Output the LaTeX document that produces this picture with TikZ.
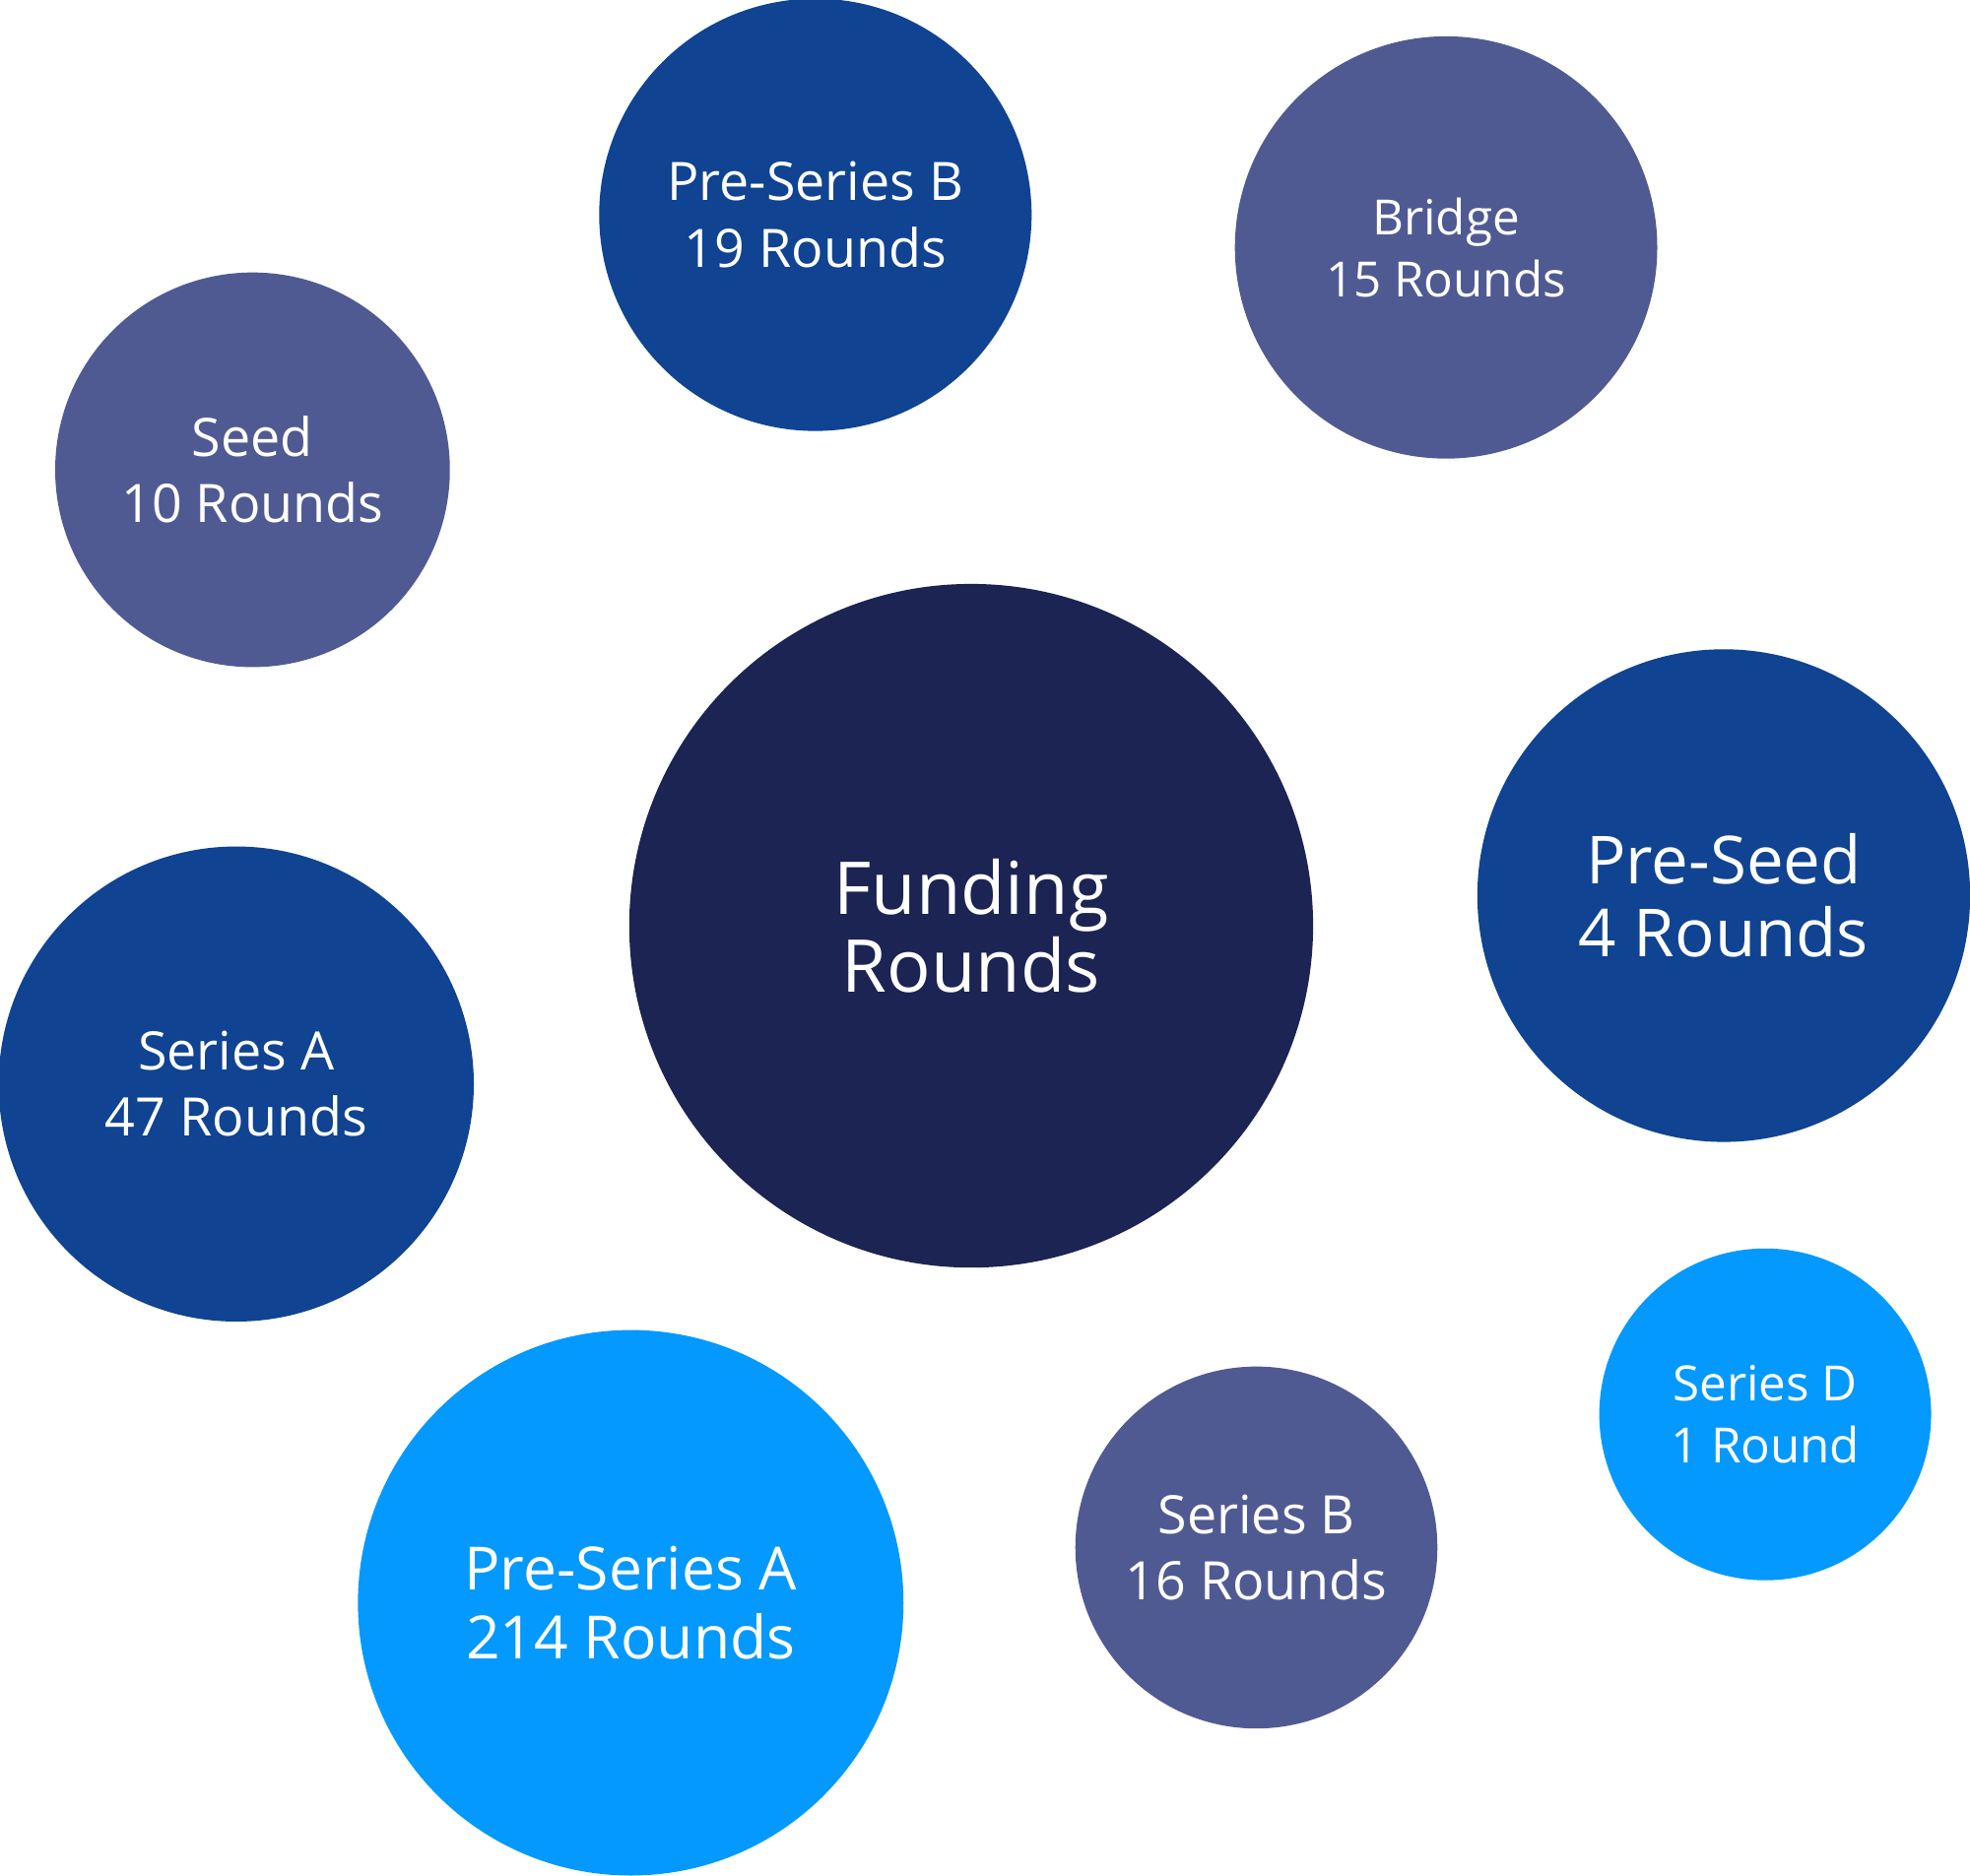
\documentclass[tikz,border=0pt]{standalone}
\usepackage{fontspec}
\setmainfont{Open Sans}
\definecolor{navy}{HTML}{1B2452}
\definecolor{royal}{HTML}{104391}
\definecolor{slate}{HTML}{505A92}
\definecolor{sky}{HTML}{0399FE}
\tikzset{
  bubble/.style={circle,draw=none,inner sep=0pt,align=center,text=white,font=\fontsize{12}{15}\selectfont},
}
\begin{document}
\begin{tikzpicture}[x=0.01cm,y=-0.01cm]
%%
\useasboundingbox (0,0) rectangle (1568,1493);
\node (preserb) at (649,171) [bubble,fill=royal,minimum size=3.44cm] {Pre-Series B\\19 Rounds};
\node (bridge) at (1151,197) [bubble,fill=slate,minimum size=3.36cm,font=\fontsize{11}{14}\selectfont] {Bridge\\15 Rounds};
\node (seed) at (201,374) [bubble,fill=slate,minimum size=3.14cm] {Seed\\10 Rounds};
\node (funding) at (773,737) [bubble,fill=navy,minimum size=5.44cm,font=\fontsize{16.5}{17.5}\selectfont] {Funding\\Rounds};
\node (preseed) at (1372,713) [bubble,fill=royal,minimum size=3.92cm,font=\fontsize{15}{16.5}\selectfont] {Pre-Seed\\4 Rounds};
\node (seriesa) at (188,863) [bubble,fill=royal,minimum size=3.78cm] {Series A\\47 Rounds};
\node (presera) at (502,1276) [bubble,fill=sky,minimum size=4.34cm,font=\fontsize{13.5}{15.5}\selectfont] {Pre-Series A\\214 Rounds};
\node (seriesb) at (1000,1232) [bubble,fill=slate,minimum size=2.88cm] {Series B\\16 Rounds};
\node (seriesd) at (1405,1126) [bubble,fill=sky,minimum size=2.64cm,font=\fontsize{11}{14}\selectfont] {Series D\\1 Round};
%
\end{tikzpicture}
\end{document}
